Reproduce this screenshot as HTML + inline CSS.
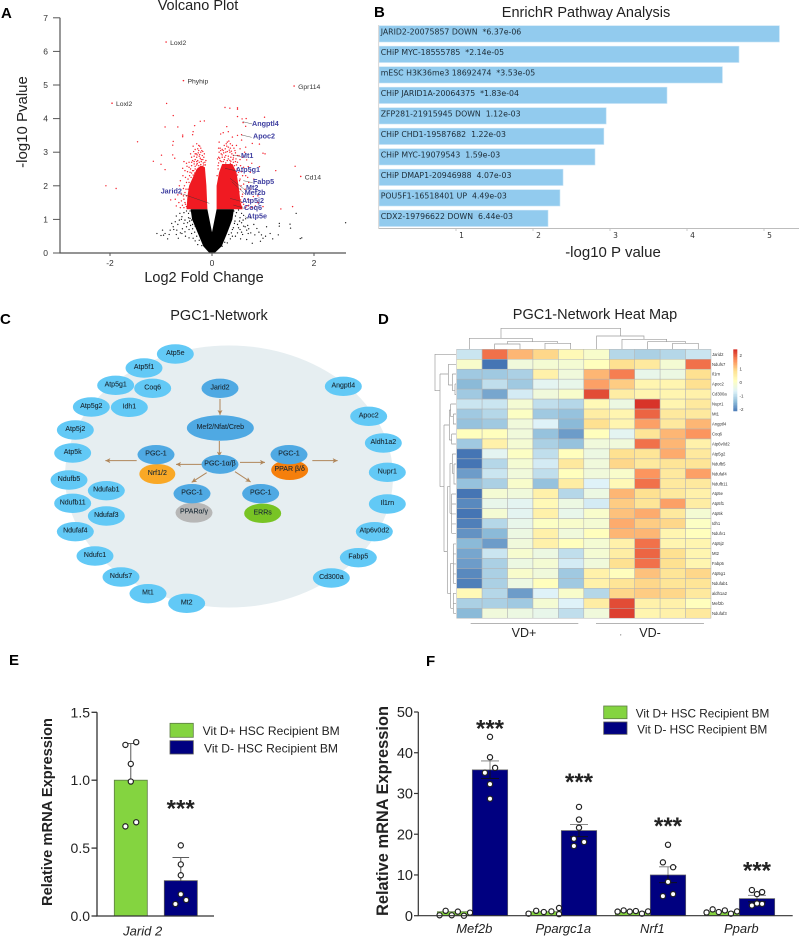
<!DOCTYPE html>
<html lang="en">
<head>
<meta charset="utf-8">
<title>PGC1 network figure</title>
<style>
html,body{margin:0;padding:0;background:#fff;width:799px;height:937px;overflow:hidden}
svg{display:block;filter:blur(.3px);fill:#222;font-family:"Liberation Sans",sans-serif}
.dj{font-family:"DejaVu Sans",sans-serif}
.title{font-size:14.5px;text-anchor:middle}
.panel{font-size:15px;font-weight:bold;fill:#000}
</style>
</head>
<body>
<svg id="figure" xmlns="http://www.w3.org/2000/svg" width="799" height="937" viewBox="0 0 799 937">
<defs>
<marker id="arrowhead" markerWidth="6" markerHeight="6" refX="5" refY="2.5" orient="auto" markerUnits="userSpaceOnUse"><path d="M0 0L5 2.5L0 5L1.2 2.5Z" fill="#B0865A"/></marker>
</defs>
<rect width="799" height="937" fill="#fff"/>

<text class="panel" x="1" y="18">A</text>
<text class="panel" x="374" y="17">B</text>
<text class="panel" x="0" y="324">C</text>
<text class="panel" x="378" y="324">D</text>
<text class="panel" x="9" y="665">E</text>
<text class="panel" x="426" y="666">F</text>

<!-- A -->
<g id="volcano">
<text class="title" x="198" y="10">Volcano Plot</text>
<text x="204" y="282" text-anchor="middle" font-size="14.5">Log2 Fold Change</text>
<text transform="translate(27,122) rotate(-90)" text-anchor="middle" font-size="15">-log10 Pvalue</text>
</g>

<!-- B -->
<g id="enrich">
<text class="title" x="586" y="17">EnrichR Pathway Analysis</text>
<text x="613" y="257" text-anchor="middle" font-size="15">-log10 P value</text>
</g>

<!-- C -->
<g id="network">
<text class="title" x="219" y="320">PGC1-Network</text>
<ellipse cx="229" cy="476.5" rx="164" ry="131" fill="#E6EEF1"/>
</g>

<!-- D -->
<g id="heatmap">
<text class="title" x="595" y="319">PGC1-Network Heat Map</text>
<g transform="translate(420,300) scale(.3333)" fill="none" stroke="#9a9a9a" stroke-width="2">
<path d="M243 115V85H602V108M148 148V115H337V125M262 132V125H413V130M224 148V132H300V148M375 148V130H452V148M530 148V108H672V118M606 148V118H740V125M683 148V125H797V130M758 148V130H835V148"/>
<path d="M108 163H45V272H60M60 222V560M60 222H85M85 193V255M85 193H108M85 255H97M97 222V272M97 222H108M97 272H105M105 252V284H108M105 252H108M60 560H72M72 375V755M72 375H88M88 330V420M88 330H92M92 312V350M92 312H108M92 350H100M100 342V372H108M100 342H108M88 420H95M95 402V432H108M95 402H108M72 755H82M82 560V880M82 560H90M90 490V640M90 490H97M97 462V520M97 462H108M97 520H102M102 492V552H108M102 492H108M90 640H95M95 582V700M95 582H108M95 612H108M95 642H108M95 672H108M95 700H108M82 880H92M92 790V925M92 790H100M100 732V850M100 732H108M100 762H108M100 792H108M100 822H108M100 850H108M92 925H100M100 880V940M100 880H108M100 910H108M100 940H108"/>
<path stroke="#888" d="M152 970H475"/>
<path stroke="#888" d="M528 970H852"/>
</g>
<text x="524" y="637" text-anchor="middle" font-size="12.5">VD+</text>
<text x="650" y="637" text-anchor="middle" font-size="12.5">VD-</text>
<text x="620" y="635" font-size="6">,</text>
</g>

<!-- E -->
<g id="barsE">
<text transform="translate(52,812) rotate(-90)" text-anchor="middle" font-size="15" font-weight="bold" textLength="188" lengthAdjust="spacingAndGlyphs">Relative mRNA Expression</text>
<rect x="170" y="723.3" width="23.3" height="14" fill="#84D440" stroke="#5c7a45" stroke-width=".8"/>
<rect x="170" y="740.7" width="23.3" height="13.3" fill="#000080" stroke="#555" stroke-width=".8"/>
<text x="202.7" y="735" font-size="12" textLength="137" lengthAdjust="spacingAndGlyphs">Vit D+ HSC Recipient BM</text>
<text x="204" y="752.7" font-size="12" textLength="134" lengthAdjust="spacingAndGlyphs">Vit D- HSC Recipient BM</text>
</g>

<!-- F -->
<g id="barsF">
<text transform="translate(388,811) rotate(-90)" text-anchor="middle" font-size="16.5" font-weight="bold" textLength="210" lengthAdjust="spacingAndGlyphs">Relative mRNA Expression</text>
<rect x="603.7" y="706" width="23.3" height="12.7" fill="#84D440" stroke="#5c7a45" stroke-width=".8"/>
<rect x="603.7" y="722" width="23.3" height="12.3" fill="#000080" stroke="#555" stroke-width=".8"/>
<text x="635.7" y="717.7" font-size="12" textLength="133.6" lengthAdjust="spacingAndGlyphs">Vit D+ HSC Recipient BM</text>
<text x="637.3" y="733.3" font-size="12" textLength="130" lengthAdjust="spacingAndGlyphs">Vit D- HSC Recipient BM</text>
</g>
</svg>

<script>
/* ---------- Panel A data ---------- */
const volcanoYTicks = [0,1,2,3,4,5,6,7];
const volcanoXTicks = [-2,0,2];
const blackMassOutline = [[0,.62],[-.09,1.3],[-.42,1.3],[-.39,1],[-.28,.6],[-.17,.2],[-.05,0],[.05,0],[.19,.2],[.3,.6],[.4,1],[.43,1.3],[.09,1.3]];
const redLeftOutline = [[-.5,1.3],[-.48,1.7],[-.45,2],[-.36,2.3],[-.3,2.5],[-.22,2.6],[-.14,2.55],[-.11,2],[-.09,1.3]];
const redRightOutline = [[.09,1.3],[.09,1.6],[.09,2],[.14,2.4],[.2,2.65],[.4,2.65],[.48,2.4],[.52,2],[.56,1.5],[.6,1.3]];
const redPoints = [[-.89,4.45],[-.76,4.09],[-.92,3.75],[-.67,3.75],[-.575,3.51],[-.575,3.46],[-.34,3.79],[-.37,3.61],[-.38,3.52],[-.23,3.92],[-.15,3.93],[-1.46,3.31],[-.76,3.32],[-.77,3.21],[-.99,2.91],[-.77,2.92],[-.73,2.82],[-1.15,2.73],[-1,2.64],[-.92,2.48],[-.55,2.72],[-.5,2.67],[-.575,2.52],[-2.08,2],[-1.88,1.92],[-.81,1.58],[-.56,1.92],[-.67,1.73],[-.7,1.4],[-.6,1.55],[-.62,2.15],[-.52,2.25],[-.48,2.42],[-.45,2.55],
[.255,4.33],[.35,4.31],[.5,4.32],[.5,4.28],[.5,4.06],[.59,3.99],[.67,4],[.61,3.88],[.66,3.77],[1.03,4.04],[.29,3.76],[.17,3.54],[.22,3.58],[.32,3.61],[.5,3.5],[.58,3.52],[.58,3.36],[.79,3.26],[.93,3.24],[1,2.97],[1.04,2.95],[1.63,2.58],[1.25,2.45],[.93,2.57],[.68,2.77],[.78,2.67],[.71,2.57],[1.58,1.38],[1.35,1.31],[1,1.38],[.81,1.68],[.85,1.4],[.7,1.6],[.65,1.9],[.72,2.1],[.6,2.3],[.62,2.55],[.55,2.78],[.5,2.9],[.45,3.05],
[-.33,3.08],[-.28,3.1],[-.26,3.2],[-.24,3.18],[-.36,3.02],[-.31,2.95],[-.27,2.98],[-.22,3],[-.2,3.05],[-.19,2.9],[-.35,2.88],[-.3,2.85],[-.25,2.88],[-.23,2.82],[-.18,2.78],[-.38,2.75],[-.33,2.78],[-.28,2.75],[-.21,2.72],[-.17,2.68],[-.4,2.6],[-.35,2.65],[-.3,2.62],[-.26,2.6],[-.22,2.63],[-.18,2.58],[-.43,2.4],[-.38,2.45],[-.33,2.5],[-.3,2.45],[-.27,2.52],[-.41,2.25],[-.37,2.32],[-.34,2.38],[-.45,2.1],[-.41,2.05],[-.47,1.9],[-.44,1.85],[-.5,1.7],[-.47,1.6],[-.52,1.45],[-.5,1.38],[-.55,1.6],[-.53,1.8],[-.42,2.5],[-.4,2.85],[-.45,2.7],[-.16,2.85],[-.14,2.7],[-.13,2.62],
[.3,3.3],[.33,3.33],[.28,3.25],[.24,3.2],[.32,3.15],[.36,3.12],[.26,3.1],[.2,3.08],[.16,3.12],[.3,3.02],[.35,3],[.39,2.95],[.23,2.98],[.18,2.95],[.14,3],[.27,2.9],[.32,2.88],[.37,2.85],[.42,2.9],[.2,2.85],[.15,2.82],[.24,2.78],[.3,2.75],[.35,2.76],[.41,2.78],[.46,2.72],[.18,2.72],[.13,2.68],[.27,2.68],[.36,2.67],[.44,2.6],[.39,2.62],[.49,2.5],[.44,2.45],[.5,2.32],[.46,2.3],[.54,2.15],[.5,2.05],[.56,1.9],[.53,1.82],[.59,1.68],[.56,1.58],[.62,1.45],[.58,1.38],[.66,1.35],[.72,1.42],[.48,2.62],[.12,2.5],[.1,2.3],[.11,2.8],[.4,3.2],[.46,2.98],
[-.55,1.35],[-.58,1.42],[-.53,1.5],[-.56,1.7],[-.51,1.9],[-.54,2],[-.5,2.1],[-.47,2.2],[-.44,2.3],[-.4,2.38],[-.36,2.45],[-.33,2.58],[-.29,2.66],[-.25,2.7],[-.21,2.78],[-.16,2.62],[-.12,2.75],[-.3,2.72],[-.35,2.72],[-.4,2.7],[-.62,1.35],[-.65,1.5],[-.72,1.6],[-.6,1.75],[-.64,2],[-.57,2.3],[-.53,2.45],[-.49,2.58],[-.42,2.95],[-.37,3.18],[-.3,3.25],[-.22,3.12],[-.18,3.02],[-.15,2.95],[-.26,3.05],[-.33,2.95],[-.29,2.92],[-.24,2.93],
[.58,1.5],[.6,1.75],[.57,2],[.55,2.2],[.52,2.4],[.5,2.7],[.47,2.8],[.42,2.7],[.37,2.73],[.32,2.8],[.25,2.85],[.2,2.92],[.16,2.75],[.13,2.85],[.12,2.6],[.68,1.4],[.75,1.55],[.78,1.35],[.9,1.5],[.62,2.05],[.66,2.3],[.58,2.42],[.56,2.6],[.43,3.12],[.36,3.25],[.29,3.18],[.22,3.05],[.17,3.05],[.13,3.12],[.34,3.06],[.38,3.03],[.27,3],[.42,2.83],[.22,2.72],[.53,2.9],[.6,2.85],[.64,3],[.55,3.1],[.48,3.2],[.66,3.15],[.4,3.45],[.14,3.3],[.75,2.4],[.7,2.25],[.82,2.2],[.76,1.9],[.9,1.7]];
const blackPoints = [[-1.08,.58],[-.97,.68],[-.92,.58],[-.95,.53],[-.87,.42],[-.82,.68],[-.79,.88],[-.72,.93],[-.76,.78],[-.69,.68],[-.63,1.18],[-.59,1.08],[-.53,.98],[-.5,.78],[-.66,.44],[-.59,.58],[-.53,.63],[-.46,1.18],[-.43,1.03],[-.4,.58],[-.37,.44],[-.55,.88],[-.48,.9],[-.45,.7],[-.42,.82],[-.38,.72],[-.5,1.25],[-.55,1.2],[-.6,1],[-.67,.85],[-.52,.5],[-.45,.45],[-.33,.36],[-.28,.25],
[.79,.29],[.71,.58],[.65,.78],[.61,.98],[.58,1.18],[.88,.73],[.97,.54],[1.07,.78],[.84,.54],[1,.44],[1.14,.58],[1.19,.42],[1.3,.54],[1.32,.88],[1.32,.8],[1.53,.86],[1.54,.74],[1.65,1.18],[1.73,.43],[1.76,.45],[2.62,.9],[.55,1.05],[.5,.85],[.48,1.2],[.45,.95],[.42,.75],[.55,.7],[.6,.55],[.5,.6],[.46,.5],[.4,.5],[.36,.42],[.3,.3],[.52,1.28],[.62,.8],[.68,.68],[.7,.82],[.66,1.02],
[-.43,1.25],[-.46,1.05],[-.44,.95],[-.4,.98],[-.38,.85],[-.34,.62],[-.33,.8],[-.3,.5],[-.25,.38],[-.2,.22],[-.58,.72],[-.62,.6],[-.7,.55],[-.64,.98],[-.7,1.1],[-.75,.7],[-.84,.55],[-1,.52],
[.43,1.25],[.46,1.1],[.44,.88],[.4,.7],[.38,.6],[.33,.55],[.25,.32],[.2,.2],[.58,.9],[.54,.95],[.52,.75],[.58,.62],[.72,.72],[.76,.6],[.82,.85],[.92,.62],[.68,.4],[.56,.42],[.62,1.12],[.75,1.05],[.95,.35],[1.05,.5]];
const namedGenes = ["Loxl2","Phyhip","Gpr114","Loxl2","Cd14"];
const namedGeneFc = [-.9,-.56,1.61,-1.96,1.74];
const namedGeneP = [6.28,5.13,4.97,4.46,2.28];

/* ---------- Panel B data ---------- */
const pathwayNames = ["JARID2-20075857 DOWN  *6.37e-06","CHiP MYC-18555785  *2.14e-05","mESC H3K36me3 18692474  *3.53e-05","CHiP JARID1A-20064375  *1.83e-04","ZFP281-21915945 DOWN  1.12e-03","CHiP CHD1-19587682  1.22e-03","CHiP MYC-19079543  1.59e-03","CHiP DMAP1-20946988  4.07e-03","POU5F1-16518401 UP  4.49e-03","CDX2-19796622 DOWN  6.44e-03"];
const pathwayScores = [5.2,4.675,4.46,3.74,2.95,2.92,2.805,2.39,2.35,2.195];
const pathwayTicks = [1,2,3,4,5];

/* ---------- Panel D data ---------- */
const heatmapGenes = ["Jarid2","Ndufs7","Il1rn","Apoc2","Cd300a","Nupr1","Mt1","Angptl4","Coq6","Atp6v0d2","Atp5g2","Ndufb5","Ndufaf4","Ndufb11","Atp5e","Atp5f1","Atp5k","Idh1","Ndufv1","Atp5j2","Mt2","Fabp5","Atp5g1","Ndufab1","aldh1a2","Mef2b","Ndufaf3"];
const heatmapValues = [
[-.8,1.9,1.3,1,.3,0,-1,-1.1,-1,-.8],
[0,-2.1,-.2,-.1,-.1,.2,.9,.7,-.1,1.9],
[-1.2,-1.2,-1.1,.5,-.2,1.3,1.8,-.4,-.3,.9],
[-1.4,-.9,-1.2,-.5,-.4,1.5,1.1,.4,.4,.9],
[-1.2,-1.6,-.7,-.2,0,2.2,.6,.4,.4,.5],
[-.8,-.8,-.1,-.9,-1,.3,-.3,2.4,.4,.7],
[-1.2,-1,.1,-1.2,-1.3,.6,.4,2,.7,.7],
[-1.3,-1.2,-.2,-.6,-1.4,.9,.4,1.5,.7,1.3],
[.2,.2,-.2,-1.3,-1.7,.2,-.5,.8,1.3,1.6],
[-1.2,.5,-.1,-1.1,-1.3,-.2,-.2,1.9,1.3,.5],
[-2.1,-.5,.1,-.9,.2,-.3,.9,.8,1.4,.7],
[-2.1,-1,-.1,-.7,.7,-.2,1,.7,.8,.8],
[-1.7,-.8,-.2,-.9,.2,-.2,0,1.6,.7,1.5],
[-1.3,-1.1,0,-1.3,.6,-.6,.3,1.9,.7,.7],
[-2.1,-.1,-.2,.5,-1,-.3,1.3,.9,.7,.5],
[-1.9,-.4,-.5,.3,-.3,-.7,1.1,.8,1.5,.6],
[-2.1,-.1,-.5,.5,-.4,0,1.2,1.4,.7,-.1],
[-2,-1,-.4,.1,0,-.1,1.4,1.1,1,.1],
[-1.8,-1.4,-.3,.5,-.2,.2,1.3,1.3,.4,.2],
[-1.4,-1.7,-.2,.5,.2,-.1,.5,1.9,.4,.4],
[-1.6,-.8,-.05,-.3,-.9,-.1,.6,2,.9,.4],
[-1.7,-1.1,-.3,-.1,-.7,-.2,.9,1.9,.9,.4],
[-1.9,-1.1,0,-.2,-1.2,.5,.2,1.2,.8,1],
[-2,-1.1,-.3,.2,-1.2,.5,.8,1,.8,.8],
[.3,-1,-1.7,-.6,0,-1,1,1.1,1,.7],
[-1.1,-1.1,-1.2,-.1,-.6,.6,2.2,.5,.5,.2],
[-1.4,-.2,-.3,-.4,-.9,-.2,2.3,.4,.5,.7]];
const colorbarTicks = [2,1,0,-1,-2];

/* ---------- Panel E data ---------- */
const jaridTicks = [0,.5,1,1.5];
const jaridMeans = [1,.26];
const jaridErrorTop = [1.27,.43];
const jaridPlusPoints = [1.26,1.28,1.12,.99,.66,.69];
const jaridPlusSlots = [-1,1,0,0,-1,1];
const jaridMinusPoints = [.52,.38,.3,.16,.118,.088];
const jaridMinusSlots = [0,0,0,0,1,-1];
const jaridStarLevel = [.817];

/* ---------- Panel F data ---------- */
const geneNames = ["Mef2b","Ppargc1a","Nrf1","Pparb"];
const geneTicks = [0,10,20,30,40,50];
const plusMeans = [1,1,1,1];
const minusMeans = [35.8,20.9,10,4.2];
const minusErrorLow = [33.7,19.4,8.1,3.4];
const minusErrorHigh = [38,22.4,12,5];
const starLevels = [46.8,33.7,22.9,12];
const plusPoints = [[.1,1.2,.1,1,0,.75],[.5,1.2,.9,1.05,1.9,.4],[1,1.3,1,1.15,.5,1.05],[.8,1.55,.9,1.3,.5,1.05]];
const plusSlots = [[-2.5,-1.5,-.5,.5,1.5,2.5],[-2.5,-1.25,0,1.25,2.5,2.5],[-2.5,-1.5,-.5,.5,1.5,2.5],[-2.5,-1.5,-.5,.5,1.5,2.5]];
const minusPoints = [[43.9,38.9,36.3,35.1,32.3,28.7],[26.7,23.6,21.6,18.9,18.1,17.1],[17.4,13.1,11.9,8.3,5.3,4.8],[6.3,5.3,5.8,2.5,3,2.9]];
const minusSlots = [[0,0,1,-1,0,0],[0,0,0,-1,1,-1],[0,-1,1,0,1,-1],[-1,0,1,-1,0,1]];

/* ---------- Helpers ---------- */
const NS = "http://www.w3.org/2000/svg";
function add(parent, tag, attrs, name, text) {
  const el = document.createElementNS(NS, tag);
  for (const k in attrs) el.setAttribute(k, attrs[k]);
  
  
  if (text !== undefined) el.textContent = text;
  parent.appendChild(el);
  return el;
}
const byId = id => document.getElementById(id);
const fmt = v => String(v);

/* ---------- Panel A ---------- */
(function () {
  const g = byId('volcano');
  const x = v => 212 + v * 51;
  const y = v => 253 - v * 33.6;
  const poly = pts => pts.map(p => x(p[0]).toFixed(1) + ',' + y(p[1]).toFixed(1)).join(' ');
  redPoints.forEach(p => add(g, 'circle', {cx: x(p[0]), cy: y(p[1]), r: .7, fill: '#F5222D'}, 'significant-gene-point'));
  add(g, 'polygon', {points: poly(redLeftOutline), fill: '#F01A22'}, 'significant-down-cloud');
  add(g, 'polygon', {points: poly(redRightOutline), fill: '#F01A22'}, 'significant-up-cloud');
  blackPoints.forEach(p => add(g, 'circle', {cx: x(p[0]), cy: y(p[1]), r: .65, fill: '#111'}, 'nonsignificant-gene-point'));
  add(g, 'polygon', {points: poly(blackMassOutline), fill: '#000'}, 'nonsignificant-cloud');
  add(g, 'path', {d: 'M60 ' + y(7) + 'V' + y(0) + 'H346', fill: 'none', stroke: '#555', 'stroke-width': 1.2}, 'volcano-axes');
  volcanoYTicks.forEach(t => {
    add(g, 'line', {x1: 53, x2: 60, y1: y(t), y2: y(t), stroke: '#555', 'stroke-width': 1}, 'volcano-y-tick');
    add(g, 'text', {x: 48, y: y(t) + 3, 'text-anchor': 'end', 'font-size': 8.5, fill: '#333'}, 'volcano-y-tick-label', fmt(t));
  });
  volcanoXTicks.forEach(t => {
    add(g, 'line', {x1: x(t), x2: x(t), y1: 253, y2: 256, stroke: '#555', 'stroke-width': 1}, 'volcano-x-tick');
    add(g, 'text', {x: x(t), y: 266, 'text-anchor': 'middle', 'font-size': 8.5, fill: '#333'}, 'volcano-x-tick-label', fmt(t));
  });
  namedGenes.forEach((n, i) => {
    add(g, 'circle', {cx: x(namedGeneFc[i]), cy: y(namedGeneP[i]), r: .8, fill: '#F5222D'}, 'labelled-gene-point');
    add(g, 'text', {x: x(namedGeneFc[i]) + 4, y: y(namedGeneP[i]) + 3, 'font-size': 6.8, fill: '#333'}, 'gene-label', n);
  });
  const blue = [["Angptl4",252,126,728,365,757,372],["Apoc2",253,138.7,725,405,755,412],["Mt1",241,158,700,465,723,470],["Atp5g1",235.7,172,675,505,707,512],["Fabp5",253,184,730,542,758,548],["Mt2",246,190,690,535,738,572],["Mef2b",244.7,195,695,545,735,582],["Atp5j2",242,203,690,595,726,605],["Coq6",244,210,700,615,733,625],["Atp5e",247,218.7,735,650,745,655],["Jarid2",160.7,193.3,548,582,628,610]];
  blue.forEach(b => {
    add(g, 'line', {x1: b[3] / 3, y1: b[4] / 3, x2: b[5] / 3, y2: b[6] / 3, stroke: '#333', 'stroke-width': .4}, 'gene-leader-line');
    add(g, 'text', {x: b[1], y: b[2], 'font-size': 7.2, 'font-weight': 'bold', fill: '#3F3FA0'}, 'highlighted-gene-label', b[0]);
  });
})();

/* ---------- Panel B ---------- */
(function () {
  const g = byId('enrich');
  const x = v => 379 + v * 77;
  const rowTop = i => 25.7 + i * 20.5;
  pathwayScores.forEach((s, i) => {
    add(g, 'rect', {x: x(0), y: rowTop(i), width: s * 77, height: 16.3, fill: '#92CBEE', stroke: '#C4E2F5', 'stroke-width': .6}, 'pathway-bar');
    add(g, 'text', {x: 380.7, y: rowTop(i) + 8.6, 'font-size': 7.8, fill: '#1c2b36', class: 'dj', style: 'white-space:pre'}, 'pathway-label', pathwayNames[i]);
  });
  add(g, 'line', {x1: 379, x2: 799, y1: 228.5, y2: 228.5, stroke: '#bdbdbd', 'stroke-width': 1}, 'enrichr-x-axis');
  add(g, 'line', {x1: 378.7, x2: 378.7, y1: 25, y2: 229, stroke: '#ccc', 'stroke-width': .8}, 'enrichr-y-axis');
  pathwayTicks.forEach(t => {
    add(g, 'line', {x1: x(t), x2: x(t), y1: 228.5, y2: 231, stroke: '#bdbdbd', 'stroke-width': .8}, 'enrichr-x-tick');
    add(g, 'text', {x: x(t) + 5.5, y: 238, 'text-anchor': 'middle', 'font-size': 7.5, fill: '#333', class: 'dj'}, 'enrichr-x-tick-label', fmt(t));
  });
})();

/* ---------- Panel C ---------- */
(function () {
  const g = byId('network');
  const outer = [["Atp5e",526,162],["Atp5f1",432,204],["Atp5g1",347,256],["Coq6",458,265],["Atp5g2",274,321],["Idh1",388,322],["Atp5j2",226,390],["Atp5k",218,459],["Ndufb5",207,540],["Ndufab1",319,572],["Ndufb11",218,610],["Ndufaf3",319,648],["Ndufaf4",226,695],["Ndufc1",285,768],["Ndufs7",363,831],["Mt1",444,881],["Mt2",560,910],["Angptl4",1030,259],["Apoc2",1106,349],["Aldh1a2",1150,429],["Nupr1",1162,517],["Il1rn",1162,612],["Atp6v0d2",1123,695],["Fabp5",1075,773],["Cd300a",994,834]];
  const node = (label, zx, zy, rx, ry, fill, name) => {
    const cx = zx / 3, cy = 300 + zy / 3;
    add(g, 'ellipse', {cx: cx, cy: cy, rx: rx, ry: ry, fill: fill}, name);
    add(g, 'text', {x: cx, y: cy + 1, 'text-anchor': 'middle', 'font-size': 7, fill: '#1a2a35', stroke: '#1a2a35', 'stroke-width': .12}, name + '-label', label);
  };
  outer.forEach(n => node(n[0], n[1], n[2], 18.5, 9.7, '#62C9F6', 'gene-node'));
  const links = [[660,297,660,345],[658,423,658,470],[605,493,528,493],[720,487,795,487],[410,482,316,482],[937,482,1013,482],[620,518,575,547],[705,515,752,546]];
  links.forEach(l => add(g, 'line', {x1: l[0] / 3, y1: 300 + l[1] / 3, x2: l[2] / 3, y2: 300 + l[3] / 3, stroke: '#B0865A', 'stroke-width': 1, 'marker-end': 'url(#arrowhead)'}, 'pathway-arrow'));
  const center = [["Jarid2",660,265,18.5,9.7,'#4FA9E3','jarid2-node'],["Mef2/Nfat/Creb",661,384,33.5,12.7,'#4FA9E3','mef2-node'],["PGC-1α/β",660,493,18.5,9.5,'#4FA9E3','pgc1-alpha-beta-node'],
    ["Nrf1/2",472,522,18,10,'#F9A826','nrf1-node'],["PGC-1",468,464,18.5,9.7,'#4FA9E3','pgc1-nrf-node'],
    ["PPAR β/δ",869,510,18.5,10,'#F57F0C','ppar-beta-node'],["PGC-1",867,464,18.5,9.7,'#4FA9E3','pgc1-ppar-beta-node'],
    ["PPARα/γ",582,638,18.5,10,'#B7B7B7','ppar-alpha-node'],["PGC-1",576,581,18.5,9.7,'#4FA9E3','pgc1-ppar-alpha-node'],
    ["ERRs",788,640,18.5,9.7,'#78C424','errs-node'],["PGC-1",782,581,18.5,9.7,'#4FA9E3','pgc1-errs-node']];
  center.forEach(n => node(n[0], n[1], n[2], n[3], n[4], n[5], n[6]));
})();

/* ---------- Panel D ---------- */
(function () {
  const g = byId('heatmap');
  const stops = [[-2.1,[69,117,180]],[-1.345,[145,191,219]],[-.59,[224,243,248]],[.165,[255,255,191]],[.92,[254,224,144]],[1.675,[252,141,89]],[2.43,[215,48,39]]];
  const color = v => {
    v = Math.max(-2.1, Math.min(2.43, v));
    for (let i = 0; i < stops.length - 1; i++) {
      if (v <= stops[i + 1][0]) {
        const t = (v - stops[i][0]) / (stops[i + 1][0] - stops[i][0]);
        const c = stops[i][1].map((s, k) => Math.round(s + t * (stops[i + 1][1][k] - s)));
        return 'rgb(' + c.join(',') + ')';
      }
    }
    return 'rgb(215,48,39)';
  };
  const cellW = 25.43, cellH = 9.96, left = 456.67, top = 349.3;
  heatmapValues.forEach((row, r) => {
    row.forEach((v, c) => add(g, 'rect', {x: left + c * cellW, y: top + r * cellH, width: cellW, height: cellH, fill: color(v), stroke: '#b3b3b3', 'stroke-width': .5}, 'heatmap-cell'));
    add(g, 'text', {x: 712, y: top + r * cellH + 6.5, 'font-size': 4.2, fill: '#333'}, 'heatmap-row-label', heatmapGenes[r]);
  });
  const barY = v => 382.4 - v * 13.6;
  for (let i = 0; i < 40; i++) {
    const v = 2.43 - i * (4.53 / 40);
    add(g, 'rect', {x: 733.3, y: barY(v), width: 4, height: 4.53 / 40 * 13.6 + .3, fill: color(v)}, 'colorbar-segment');
  }
  colorbarTicks.forEach(t => add(g, 'text', {x: 739.5, y: barY(t) + 1.6, 'font-size': 4.4, fill: '#333'}, 'colorbar-tick-label', fmt(t)));
})();

/* ---------- Panel E ---------- */
function drawDot(g, cx, cy, name) {
  add(g, 'circle', {cx: cx, cy: cy, r: 2.6, fill: '#fff', stroke: '#222', 'stroke-width': 1.2}, name);
}
(function () {
  const g = byId('barsE');
  const y = v => 916 - v * 135.8;
  const fills = ['#84D440', '#000080'], strokes = ['#5c7a45', '#555'], lefts = [114.3, 164.3];
  const names = ['jarid2-bar-vit-d-plus', 'jarid2-bar-vit-d-minus'];
  jaridMeans.forEach((m, i) => {
    const c = lefts[i] + 16.5;
    add(g, 'line', {x1: c, x2: c, y1: y(m), y2: y(jaridErrorTop[i]), stroke: '#444', 'stroke-width': .9}, 'jarid2-error-bar');
    add(g, 'line', {x1: c - 8.3, x2: c + 8.3, y1: y(jaridErrorTop[i]), y2: y(jaridErrorTop[i]), stroke: '#444', 'stroke-width': .9}, 'jarid2-error-cap');
    add(g, 'rect', {x: lefts[i], y: y(m), width: 33, height: y(0) - y(m), fill: fills[i], stroke: strokes[i], 'stroke-width': .8}, names[i]);
  });
  jaridPlusPoints.forEach((v, i) => drawDot(g, lefts[0] + 16.5 + jaridPlusSlots[i] * 5.4, y(v), 'jarid2-point-vit-d-plus'));
  jaridMinusPoints.forEach((v, i) => drawDot(g, lefts[1] + 16.5 + jaridMinusSlots[i] * 5.4, y(v), 'jarid2-point-vit-d-minus'));
  add(g, 'path', {d: 'M97 ' + y(1.5) + 'V' + y(0) + 'H214', fill: 'none', stroke: '#333', 'stroke-width': 1.3}, 'jarid2-axes');
  jaridTicks.forEach(t => {
    add(g, 'line', {x1: 91.5, x2: 97, y1: y(t), y2: y(t), stroke: '#333', 'stroke-width': 1.3}, 'jarid2-y-tick');
    add(g, 'text', {x: 90, y: y(t) + 5, 'text-anchor': 'end', 'font-size': 14}, 'jarid2-y-tick-label', t.toFixed(1));
  });
  add(g, 'text', {x: 142.7, y: 935.5, 'text-anchor': 'middle', 'font-size': 13, 'font-style': 'italic'}, 'jarid2-x-tick-label', 'Jarid 2');
  add(g, 'text', {x: 180.7, y: y(jaridStarLevel[0]) + 11.5, 'text-anchor': 'middle', 'font-size': 24, 'font-weight': 'bold'}, 'jarid2-significance', '***');
})();

/* ---------- Panel F ---------- */
(function () {
  const g = byId('barsF');
  const y = v => 915.7 - v * 4.074;
  const groupLeft = i => 437.3 + i * 89;
  geneNames.forEach((n, i) => {
    const gc = groupLeft(i) + 17.5, nc = groupLeft(i) + 52.7;
    add(g, 'rect', {x: groupLeft(i), y: y(plusMeans[i]), width: 35, height: y(0) - y(plusMeans[i]), fill: '#84D440', stroke: '#5c7a45', 'stroke-width': .6}, 'bar-vit-d-plus-' + n.toLowerCase());
    add(g, 'line', {x1: nc, x2: nc, y1: y(minusErrorLow[i]), y2: y(minusErrorHigh[i]), stroke: '#777', 'stroke-width': .9}, 'error-bar-' + n.toLowerCase());
    add(g, 'line', {x1: nc - 9, x2: nc + 9, y1: y(minusErrorHigh[i]), y2: y(minusErrorHigh[i]), stroke: '#777', 'stroke-width': .9}, 'error-cap-top-' + n.toLowerCase());
    add(g, 'rect', {x: groupLeft(i) + 35, y: y(minusMeans[i]), width: 35.4, height: y(0) - y(minusMeans[i]), fill: '#000080', stroke: '#666', 'stroke-width': .7}, 'bar-vit-d-minus-' + n.toLowerCase());
    add(g, 'line', {x1: nc, x2: nc, y1: y(minusMeans[i]), y2: y(minusErrorLow[i]), stroke: '#111', 'stroke-width': .9}, 'error-bar-lower-' + n.toLowerCase());
    add(g, 'line', {x1: nc - 9, x2: nc + 9, y1: y(minusErrorLow[i]), y2: y(minusErrorLow[i]), stroke: '#111', 'stroke-width': .9}, 'error-cap-bottom-' + n.toLowerCase());
    plusPoints[i].forEach((v, k) => drawDot(g, gc + plusSlots[i][k] * 6.1, y(v), 'point-vit-d-plus'));
    minusPoints[i].forEach((v, k) => drawDot(g, nc + minusSlots[i][k] * 5.1, y(v), 'point-vit-d-minus'));
    add(g, 'text', {x: nc, y: y(starLevels[i]) + 11.5, 'text-anchor': 'middle', 'font-size': 24, 'font-weight': 'bold'}, 'significance-' + n.toLowerCase(), '***');
    add(g, 'text', {x: groupLeft(i) + 37, y: 933, 'text-anchor': 'middle', 'font-size': 13, 'font-style': 'italic'}, 'x-tick-label-' + n.toLowerCase(), n);
  });
  add(g, 'path', {d: 'M418.3 ' + y(50) + 'V' + y(0) + 'H792.7', fill: 'none', stroke: '#333', 'stroke-width': 1.2}, 'gene-axes');
  geneTicks.forEach(t => {
    add(g, 'line', {x1: 414, x2: 418.3, y1: y(t), y2: y(t), stroke: '#333', 'stroke-width': 1.2}, 'gene-y-tick');
    add(g, 'text', {x: 413, y: y(t) + 5.2, 'text-anchor': 'end', 'font-size': 14.5}, 'gene-y-tick-label', fmt(t));
  });
})();
</script>
</body>
</html>
